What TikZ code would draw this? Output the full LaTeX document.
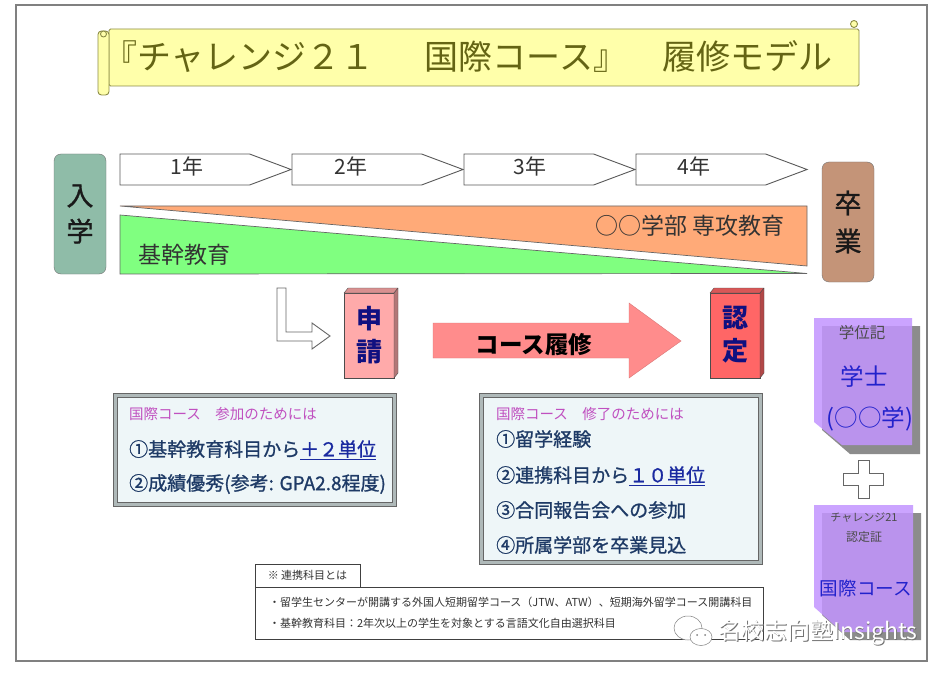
\documentclass[tikz,border=0pt]{standalone}
\usepackage{fontspec}
\setmainfont{Noto Sans CJK JP}
\newfontfamily\semifont[FakeBold=1]{Noto Sans CJK JP}
\newfontfamily\wmfont{Noto Sans CJK SC}
\usepackage{xcolor}
\usetikzlibrary{positioning}
\usetikzlibrary{shapes.symbols}
\definecolor{framecolor}{RGB}{128,128,128}
\definecolor{scrollcolor}{RGB}{255,255,170}
\definecolor{scrolledge}{RGB}{140,140,70}
\definecolor{titlecolor}{RGB}{100,100,20}
\definecolor{startcolor}{RGB}{143,188,168}
\definecolor{endcolor}{RGB}{196,148,120}
\definecolor{majorcolor}{RGB}{255,170,120}
\definecolor{basecolor}{RGB}{128,255,128}
\definecolor{applycolor}{RGB}{255,170,170}
\definecolor{certcolor}{RGB}{255,102,102}
\definecolor{flowcolor}{RGB}{255,140,140}
\definecolor{panelcolor}{RGB}{238,246,248}
\definecolor{rimcolor}{RGB}{175,185,185}
\definecolor{headcolor}{RGB}{192,80,192}
\definecolor{itemcolor}{RGB}{30,58,102}
\definecolor{unitcolor}{RGB}{26,42,160}
\definecolor{navycolor}{RGB}{16,16,128}
\definecolor{doccolor}{RGB}{195,149,255}
\definecolor{docblue}{RGB}{34,34,204}
\newcommand{\fsz}[1]{\fontsize{#1}{#1}\selectfont}

\begin{document}
\begin{tikzpicture}[
    x=1pt, y=-1pt,
    scrollpart/.style={draw=scrolledge, fill=scrollcolor, line width=0.9pt},
    yearbox/.style={signal, signal to=east, signal pointer angle=41, draw=black!65, line width=0.9pt, fill=white, minimum width=171pt, minimum height=31pt, inner sep=0pt, outer sep=0pt},
    yeartext/.style={font=\fsz{21}, text=black!80},
    pillar/.style={rectangle, draw=black!55, rounded corners=7pt, minimum width=52pt, minimum height=120pt, align=center, text=black!90, inner sep=0pt},
    wedge/.style={draw=black!60, line width=0.7pt},
    edgebox/.style={rectangle, draw=black!70, minimum width=50pt, minimum height=85pt, align=center, inner sep=0pt, outer sep=0pt, text=navycolor},
    edgeside/.style={draw=black!70, line join=round},
    hollow/.style={draw=black!60, fill=white, line width=0.9pt},
    panel/.style={rectangle, draw=black!60, line width=0.8pt, double=rimcolor, double distance=3.5pt, fill=panelcolor, minimum width=279pt, inner sep=0pt},
    panelhead/.style={anchor=west, font=\fsz{14.5}, text=headcolor, inner sep=0pt},
    panelitem/.style={anchor=west, font=\semifont\fsz{19}, text=itemcolor, inner sep=0pt},
    docshadow/.style={fill=black!45},
    docpage/.style={fill=doccolor, opacity=0.85},
    doctext/.style={text=docblue, inner sep=0pt},
    notebox/.style={rectangle, draw=black!75, line width=0.8pt, inner sep=0pt, outer sep=0pt}
]

\useasboundingbox (0,0) rectangle (949,676);
\fill[white] (0,0) rectangle (949,676);
\draw[framecolor, line width=1.3pt] (16,5) rectangle (927,661);

% Title scroll
\node[scrollpart, rectangle, rounded corners=1.5pt, minimum width=750pt, minimum height=57pt, inner sep=0pt] (scroll) at (484,57.5) {};
\draw[scrollpart, rounded corners=3.5pt] (98,31) rectangle (109,95);
\draw[scrollpart] (103.5,34) circle (3pt);
\draw[scrollpart] (854,24) circle (3.5pt);
\node[anchor=west, font=\fsz{34}, text=titlecolor, inner sep=0pt] (title) at (103,57) {『チャレンジ２１\hspace{50pt}国際コース』\hspace{35pt}履修モデル};

% Entry and graduation
\node[pillar, fill=startcolor, font=\semifont\fontsize{27}{36}\selectfont] (entry) at (80,214) {入\\学};
\node[pillar, fill=endcolor, font=\semifont\fontsize{27}{38}\selectfont] (grad) at (848,222) {卒\\業};

% Years
\node[yearbox, anchor=west, label={[yeartext, xshift=2pt, yshift=3pt]center:1年}] (year1) at (120,169.5) {};
\node[yearbox, right=1pt of year1, label={[yeartext, xshift=-6pt, yshift=3pt]center:2年}] (year2) {};
\node[yearbox, right=1pt of year2, label={[yeartext, xshift=1pt, yshift=3pt]center:3年}] (year3) {};
\node[yearbox, right=1pt of year3, label={[yeartext, xshift=-7pt, yshift=3pt]center:4年}] (year4) {};

% Wedges
\draw[wedge, fill=majorcolor] (120,206) -- (807,206) -- (807,266) -- cycle;
\draw[wedge, fill=basecolor] (120,215) -- (807,273.5) -- (120,274) -- cycle;
\node[font=\fsz{23}, text=black!80, inner sep=0pt] (base) at (184,255) {基幹教育};
\node[font=\fsz{23}, text=black!80, inner sep=0pt] (major) at (690,226) {○○学部 専攻教育};

% Apply
\draw[hollow] (277,288) -- (286,288) -- (286,332) -- (312,332) -- (312,323) -- (330,336) -- (312,349) -- (312,341) -- (277,341) -- cycle;
\node[edgebox, fill=applycolor, font=\bfseries\fontsize{26}{33}\selectfont] (apply) at (369,335.5) {\raisebox{4pt}{申}\\\raisebox{4pt}{請}};
\draw[edgeside, fill=applycolor!85!black] (apply.north west) -- ++(4,-5) -- ++(50,0) -- (apply.north east) -- cycle;
\draw[edgeside, fill=applycolor!70!black] (apply.north east) -- ++(4,-5) -- ++(0,85) -- (apply.south east) -- cycle;

% Course flow
\draw[draw=flowcolor!85!black, fill=flowcolor] (433,323) -- (629,323) -- (629,303) -- (681,341) -- (629,378) -- (629,358) -- (433,358) -- cycle;
\node[font=\bfseries\fsz{23.5}, text=black, inner sep=0pt] (flow) at (534,345) {コース履修};

% Certify
\node[edgebox, fill=certcolor, font=\bfseries\fontsize{26}{33}\selectfont] (cert) at (735,335.5) {\raisebox{4pt}{認}\\\raisebox{4pt}{定}};
\draw[edgeside, fill=certcolor!85!black] (cert.north west) -- ++(4,-5) -- ++(50,0) -- (cert.north east) -- cycle;
\draw[edgeside, fill=certcolor!70!black] (cert.north east) -- ++(4,-5) -- ++(0,85) -- (cert.south east) -- cycle;

% Panels
\node[panel, minimum height=109pt] (joinpanel) at (255,450) {};
\node[panelhead] (joinhead) at (129,414) {国際コース　参加のためには};
\node[panelitem] (join1) at (129,450) {①基幹教育科目から\textcolor{unitcolor}{\underline{＋２単位}}};
\node[panelitem] (join2) at (129,484) {②成績優秀(参考: GPA2.8程度)};

\node[panel, minimum height=167pt] (donepanel) at (621,479) {};
\node[panelhead] (donehead) at (496,414) {国際コース　修了のためには};
\node[panelitem] (done1) at (496,439) {①留学経験};
\node[panelitem] (done2) at (496,476) {②連携科目から\textcolor{unitcolor}{\underline{１０単位}}};
\node[panelitem] (done3) at (496,510) {③合同報告会への参加};
\node[panelitem] (done4) at (496,545) {④所属学部を卒業見込};

% Degree sheet
\fill[docshadow] (822,326) -- (920,326) -- (920,454) -- (850,454) -- (822,430) -- cycle;
\fill[docpage] (814,318) -- (912,318) -- (912,445) -- (842,445) -- (814,422) -- cycle;
\node[doctext, font=\fsz{15.5}, text=black!70] (degreehead) at (862,333) {学位記};
\node[doctext, font=\fsz{23.5}] (degree) at (864,377) {学士};
\node[doctext, font=\fsz{23.5}] (field) at (870,419) {(○○学)};

% Plus
\draw[hollow] (858,460) -- (869,460) -- (869,473) -- (883,473) -- (883,485) -- (869,485) -- (869,498) -- (858,498) -- (858,485) -- (843,485) -- (843,473) -- (858,473) -- cycle;

% Certificate sheet
\fill[docshadow] (822,513) -- (921,513) -- (921,640) -- (850,640) -- (822,615) -- cycle;
\fill[docpage] (814,505) -- (913,505) -- (913,632) -- (842,632) -- (814,607) -- cycle;
\node[doctext, font=\fsz{11}, text=black!70] (certhead) at (864,518) {チャレンジ21};
\node[doctext, font=\fsz{12}, text=black!70] (certname) at (864,537) {認定証};
\node[doctext, font=\fsz{18.6}] (course) at (866,588) {国際コース};

% Note
\node[notebox, anchor=north west, minimum width=105pt, minimum height=23pt, font=\fsz{11}, text=black!80] (notetab) at (255,564) {※ 連携科目とは\hspace{9pt}};
\node[notebox, anchor=north west, minimum width=508pt, minimum height=52pt, fill=white, font=\fontsize{11}{21}\selectfont, text=black!80, align=left] (notebody) at (255,587) {\hspace{10pt}\raisebox{2pt}{\parbox{490pt}{・留学生センターが開講する外国人短期留学コース（JTW、ATW）、短期海外留学コース開講科目\\・基幹教育科目：2年次以上の学生を対象とする言語文化自由選択科目}}};

% Watermark
\draw[black!50, fill=white, line width=0.5pt] (688,628) ellipse (14pt and 12pt);
\draw[black!50, fill=white, line width=0.5pt] (701,637) ellipse (11pt and 8.5pt);
\fill[black!50] (697,635) circle (1pt) (705,635) circle (1pt);
\node[font=\wmfont\fsz{23}, text=black!55, inner sep=0pt] (wmshadow) at (818.7,634) {名校志向塾Insights};
\node[font=\wmfont\fsz{23}, text=white, inner sep=0pt] (wmtext) at (818,633) {名校志向塾Insights};

\end{tikzpicture}
\end{document}
